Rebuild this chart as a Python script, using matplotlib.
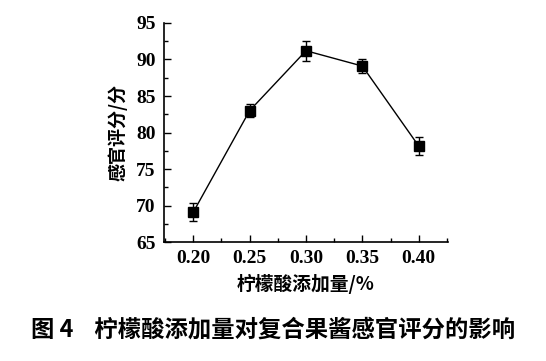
import matplotlib
matplotlib.use("Agg")
import matplotlib.pyplot as plt
from matplotlib.ticker import MultipleLocator

# citric acid dosage (%) vs sensory score
dosage = [0.20, 0.25, 0.30, 0.35, 0.40]
score = [69.1, 83.0, 91.2, 89.1, 78.15]
err = [1.25, 0.9, 1.4, 0.9, 1.2]
xticks = ["0.20", "0.25", "0.30", "0.35", "0.40"]

cjk = ["Noto Sans CJK SC", "DejaVu Sans"]

fig = plt.figure(figsize=(5.46, 3.61), dpi=100)
ax = fig.add_axes([0.3004, 0.3296, 0.5201, 0.6067])

ax.errorbar(dosage, score, yerr=err, fmt="-s", color="black", ms=7.5,
            lw=1, elinewidth=1, capsize=3, capthick=1)

ax.set_xlim(0.174, 0.426)
ax.set_ylim(65, 95)
ax.set_xticks(dosage)
ax.set_xticklabels(xticks)
ax.xaxis.set_minor_locator(MultipleLocator(0.025))
ax.yaxis.set_major_locator(MultipleLocator(5))
ax.yaxis.set_minor_locator(MultipleLocator(2.5))
ax.tick_params(which="both", direction="in", width=1)
ax.tick_params(which="major", length=5, pad=6)
ax.tick_params(which="minor", length=3)
for lab in ax.get_xticklabels() + ax.get_yticklabels():
    lab.set_fontfamily("Liberation Serif")
    lab.set_fontweight("bold")
    lab.set_fontsize(14)

ax.spines["top"].set_visible(False)
ax.spines["right"].set_visible(False)
ax.spines["left"].set_linewidth(1.2)
ax.spines["bottom"].set_linewidth(1.2)

ax.set_xlabel("柠檬酸添加量/%", family=cjk, fontsize=13.5, fontweight="bold", labelpad=5)
ax.set_ylabel("感官评分/分", family=cjk, fontsize=13, fontweight="bold", labelpad=6)

fig.text(0.5, 0.088, "图 4    柠檬酸添加量对复合果酱感官评分的影响", family=cjk,
         fontsize=16.8, fontweight="bold", ha="center", va="center")

fig.savefig("out.png", dpi=100)
